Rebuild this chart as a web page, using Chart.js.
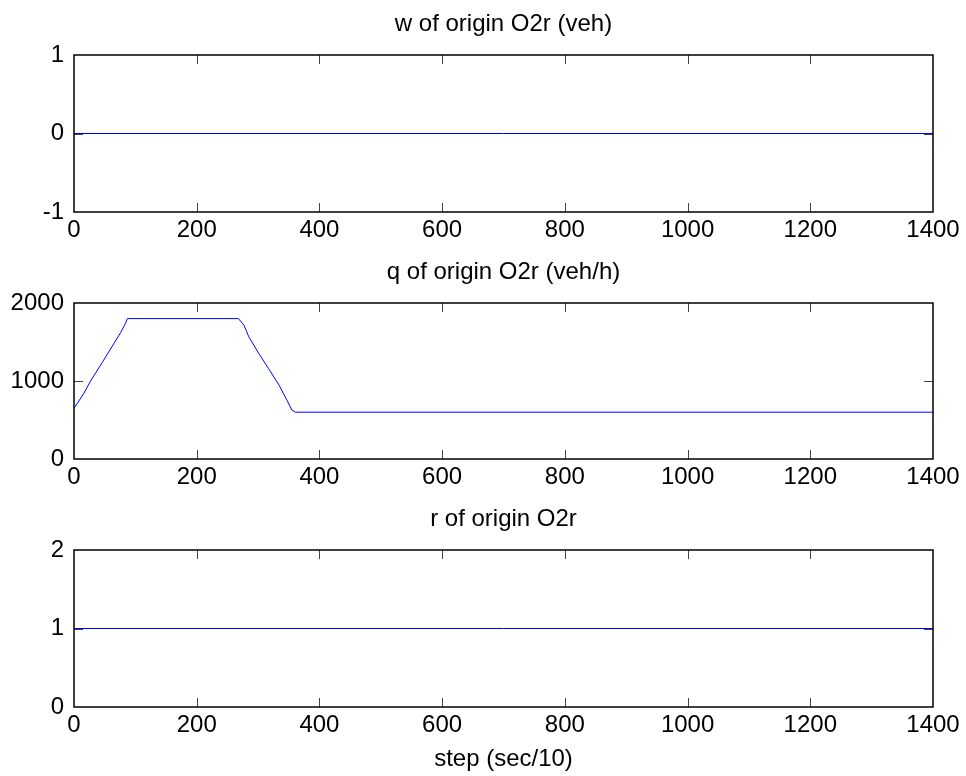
<!DOCTYPE html>
<html>
<head>
<meta charset="utf-8">
<script src="https://cdn.jsdelivr.net/npm/chart.js@4.4.1/dist/chart.umd.min.js"></script>
<style>
  html, body { margin: 0; padding: 0; background: #fff; }
  body { width: 966px; height: 776px; position: relative; overflow: hidden; }
  .panel { position: absolute; left: 0; width: 966px; }
</style>
</head>
<body>
<div class="panel" style="top:0px;height:250px"><canvas id="c1" width="966" height="250"></canvas></div>
<div class="panel" style="top:248px;height:249px"><canvas id="c2" width="966" height="249"></canvas></div>
<div class="panel" style="top:495px;height:281px"><canvas id="c3" width="966" height="281"></canvas></div>
<script>
// ---- data ----
const xTickValues = [0, 200, 400, 600, 800, 1000, 1200, 1400];

const wTitle = 'w of origin O2r (veh)';
const wSteps = [0, 1400];
const wValues = [0, 0];
const wTicks = [-1, 0, 1];

const qTitle = 'q of origin O2r (veh/h)';
const qSteps = [0, 16, 27, 47, 65, 76, 84, 87, 268, 277, 285, 301, 317, 334, 347, 355, 361, 1400];
const qValues = [650, 840, 1000, 1250, 1480, 1620, 1740, 1800, 1800, 1715, 1565, 1355, 1160, 950, 755, 630, 600, 600];
const qTicks = [0, 1000, 2000];

const rTitle = 'r of origin O2r';
const rSteps = [0, 1400];
const rValues = [1, 1];
const rTicks = [0, 1, 2];

const xLabel = 'step (sec/10)';

// ---- helpers ----
const FONT = "'Liberation Sans', Arial, sans-serif";

const boxPlugin = {
  id: 'matlabBox',
  afterDatasetsDraw(chart) {
    const { ctx, chartArea: a, scales } = chart;
    const x = scales.x, y = scales.y;
    ctx.save();
    ctx.strokeStyle = '#444';
    ctx.lineWidth = 1;
    const L = 9;
    ctx.beginPath();
    x.ticks.forEach(t => {
      if (t.value <= x.min || t.value >= x.max) return;
      const px = Math.round(x.getPixelForValue(t.value)) + 0.5;
      ctx.moveTo(px, a.bottom); ctx.lineTo(px, a.bottom - L);
      ctx.moveTo(px, a.top); ctx.lineTo(px, a.top + L);
    });
    y.ticks.forEach(t => {
      if (t.value <= y.min || t.value >= y.max) return;
      const py = Math.round(y.getPixelForValue(t.value)) + 0.5;
      ctx.moveTo(a.left, py); ctx.lineTo(a.left + L, py);
      ctx.moveTo(a.right, py); ctx.lineTo(a.right - L, py);
    });
    ctx.stroke();
    ctx.strokeStyle = '#000';
    ctx.lineWidth = 1.5;
    ctx.strokeRect(a.left, a.top, a.right - a.left, a.bottom - a.top);
    ctx.restore();
  }
};

function makePanel(id, title, steps, values, yTicks, xAxisHeight, showXLabel) {
  const pts = steps.map((s, i) => ({ x: s, y: values[i] }));
  return new Chart(document.getElementById(id), {
    type: 'line',
    data: {
      datasets: [{
        data: pts,
        borderColor: '#0000ff',
        borderWidth: 1,
        pointRadius: 0,
        tension: 0,
        fill: false,
        xAxisID: 'x',
        yAxisID: 'y'
      }]
    },
    options: {
      responsive: false,
      animation: false,
      devicePixelRatio: 1,
      layout: { padding: { left: 0, right: 33, top: 0, bottom: 0 } },
      plugins: {
        legend: { display: false },
        tooltip: { enabled: false },
        title: { display: false }
      },
      scales: {
        x: {
          type: 'linear',
          position: 'bottom',
          min: 0, max: 1400,
          grid: { display: false, drawTicks: false },
          border: { display: false },
          afterBuildTicks: s => { s.ticks = xTickValues.map(v => ({ value: v })); },
          afterFit: s => { s.height = xAxisHeight; },
          ticks: {
            color: '#000',
            padding: 4,
            maxRotation: 0,
            autoSkip: false,
            font: { family: FONT, size: 24 },
            callback: v => String(v)
          },
          title: {
            display: showXLabel,
            text: xLabel,
            color: '#000',
            font: { family: FONT, size: 24 },
            padding: { top: 0, bottom: 2 }
          }
        },
        xTop: {
          type: 'linear',
          position: 'top',
          min: 0, max: 1400,
          grid: { display: false, drawTicks: false },
          border: { display: false },
          ticks: { display: false },
          afterFit: s => { s.height = 55; },
          title: {
            display: true,
            text: title,
            color: '#000',
            font: { family: FONT, size: 24 },
            padding: { top: 9.6, bottom: 0 }
          }
        },
        y: {
          type: 'linear',
          min: yTicks[0], max: yTicks[yTicks.length - 1],
          grid: { display: false, drawTicks: false },
          border: { display: false },
          afterBuildTicks: s => { s.ticks = yTicks.map(v => ({ value: v })); },
          afterFit: s => { s.width = 74; },
          ticks: {
            color: '#000',
            padding: 10,
            autoSkip: false,
            font: { family: FONT, size: 24 },
            callback: v => String(v)
          }
        }
      }
    },
    plugins: [boxPlugin]
  });
}

makePanel('c1', wTitle, wSteps, wValues, wTicks, 38, false);
makePanel('c2', qTitle, qSteps, qValues, qTicks, 38, false);
makePanel('c3', rTitle, rSteps, rValues, rTicks, 69, true);
</script>
</body>
</html>
